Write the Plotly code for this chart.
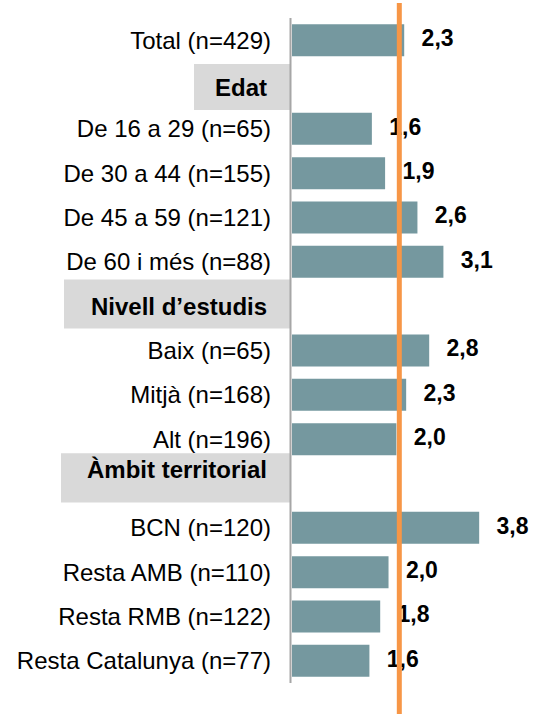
import plotly.graph_objects as go

# ---- data ----
categories = [
    "Total (n=429)",
    "Edat",
    "De 16 a 29 (n=65)",
    "De 30 a 44 (n=155)",
    "De 45 a 59 (n=121)",
    "De 60 i més (n=88)",
    "Nivell d’estudis",
    "Baix (n=65)",
    "Mitjà (n=168)",
    "Alt (n=196)",
    "Àmbit territorial",
    "BCN (n=120)",
    "Resta AMB (n=110)",
    "Resta RMB (n=122)",
    "Resta Catalunya (n=77)",
]
values = [2.29, None, 1.63, 1.90, 2.56, 3.09, None, 2.80, 2.33, 2.13, None, 3.82, 1.97, 1.80, 1.58]
value_labels = ["2,3", "", "1,6", "1,9", "2,6", "3,1", "", "2,8", "2,3", "2,0", "", "3,8", "2,0", "1,8", "1,6"]
headers = ["Edat", "Nivell d’estudis", "Àmbit territorial"]
mean_value = 2.19

# ---- style / layout ----
W, H = 533, 714
ML, MT, MB = 292, 18, 31
PW = 221
MR = W - ML - PW
PH = H - MT - MB
PX_PER_UNIT = 49.0
BAR_COLOR = "#75989f"
HEADER_BG = "#d9d9d9"
ORANGE = "#f79646"
FONT = "Arial, Liberation Sans, sans-serif"
FS = 24
FSV = 23

# header boxes: left px, top/bottom offsets in rows, text yshift
header_style = {
    "Edat": dict(left=194, top=-0.46, bottom=0.575, yshift=-3),
    "Nivell d’estudis": dict(left=64, top=-0.60, bottom=0.505, yshift=0),
    "Àmbit territorial": dict(left=61, top=-0.68, bottom=0.43, yshift=14),
}

bar_y = [c for c, v in zip(categories, values) if v is not None]
bar_x = [v for v in values if v is not None]
bar_t = [t for t, v in zip(value_labels, values) if v is not None]

fig = go.Figure()
fig.add_trace(go.Bar(
    x=bar_x, y=bar_y, orientation="h",
    marker=dict(color=BAR_COLOR, line=dict(width=0)),
    hoverinfo="skip",
))
fig.add_trace(go.Scatter(
    x=bar_x, y=bar_y, mode="text",
    text=["\u00a0\u00a0\u2009" + t for t in bar_t],
    textposition="middle right",
    textfont=dict(family=FONT, size=FSV, color="black", weight="bold"),
    cliponaxis=False, hoverinfo="skip",
))

shapes = []
annotations = []
for h in headers:
    st = header_style[h]
    idx = categories.index(h)
    shapes.append(dict(
        type="rect", xref="paper", yref="y",
        x0=(st["left"] - ML) / PW, x1=(290 - ML) / PW,
        y0=idx + st["top"], y1=idx + st["bottom"],
        fillcolor=HEADER_BG, line=dict(width=0), layer="below",
    ))
    annotations.append(dict(
        xref="paper", yref="y", x=0, y=h, xanchor="right", yanchor="middle",
        xshift=-23, yshift=st["yshift"], showarrow=False,
        text="<b>" + h + "</b>", font=dict(family=FONT, size=FS, color="black"),
    ))

# axis line
shapes.append(dict(
    type="line", xref="paper", yref="paper", x0=-1.5 / PW, x1=-1.5 / PW, y0=0, y1=1,
    line=dict(color="#a6a6a6", width=2), layer="above",
))
# mean line
shapes.append(dict(
    type="line", xref="x", yref="paper", x0=mean_value, x1=mean_value,
    y0=-(MB + 2) / PH, y1=1 + (MT - 3) / PH,
    line=dict(color=ORANGE, width=5), layer="above",
))

tick_cats = [c for c in categories if c not in headers]

fig.update_layout(
    width=W, height=H,
    margin=dict(l=ML, r=MR, t=MT, b=MB, pad=0),
    paper_bgcolor="white", plot_bgcolor="white",
    showlegend=False, bargap=0.28,
    shapes=shapes, annotations=annotations,
    xaxis=dict(range=[0, PW / PX_PER_UNIT], visible=False, fixedrange=True),
    yaxis=dict(
        type="category", categoryorder="array", categoryarray=categories,
        range=[len(categories) - 0.5, -0.5],
        tickmode="array", tickvals=tick_cats, ticktext=tick_cats,
        ticks="", showline=False, showgrid=False, zeroline=False,
        ticklabelstandoff=20, fixedrange=True,
        tickfont=dict(family=FONT, size=FS, color="black"),
    ),
)

fig.write_html(
    "out.html",
    config={"displayModeBar": False, "staticPlot": True},
    post_script="document.body.style.margin='0';document.body.style.overflow='hidden';",
)
